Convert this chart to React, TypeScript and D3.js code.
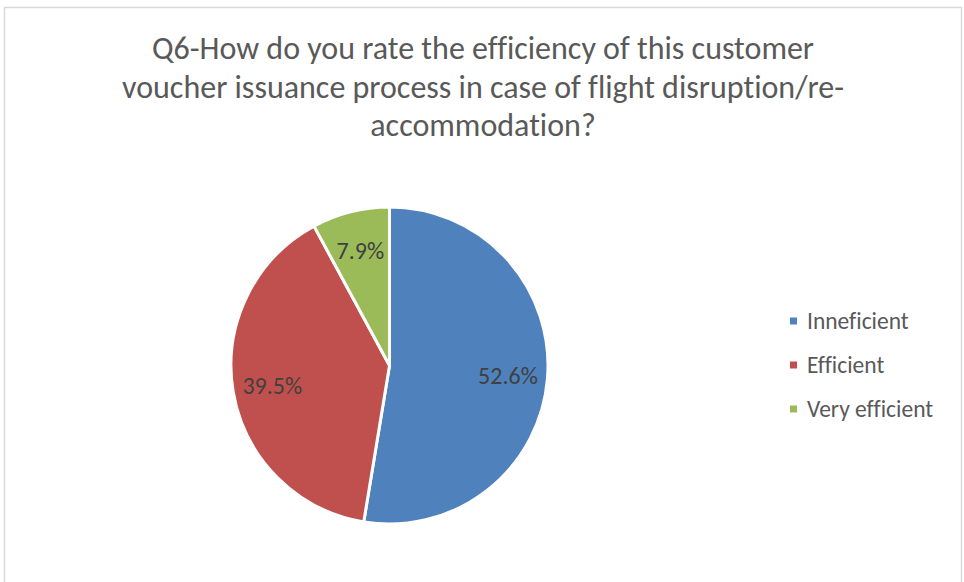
import { useEffect, useRef } from "react";
import * as d3 from "d3";

const categories = ["Inneficient", "Efficient", "Very efficient"];
const shares = [52.6, 39.5, 7.9];
const colors = ["#4f81bd", "#c0504d", "#9bbb59"];
const titleLines = [
  "Q6-How do you rate the efficiency of this customer",
  "voucher issuance process in case of flight disruption/re-",
  "accommodation?",
];

const App = () => {
  const svgRef = useRef<SVGSVGElement>(null);

  useEffect(() => {
    const svg = d3.select(svgRef.current);
    svg.selectAll("*").remove();

    const width = 964;
    const height = 582;
    const cx = 389.5;
    const cy = 365.5;
    const radius = 158.5;
    const font = "Carlito, Calibri, Lato, sans-serif";

    // chart frame
    svg
      .append("rect")
      .attr("x", 4.5)
      .attr("y", 7.5)
      .attr("width", 957)
      .attr("height", 590)
      .attr("fill", "#ffffff")
      .attr("stroke", "#d9d9d9")
      .attr("stroke-width", 1.5);

    // title
    svg
      .append("g")
      .selectAll("text")
      .data(titleLines)
      .enter()
      .append("text")
      .attr("x", 483)
      .attr("y", (_, i) => 59 + i * 38.5)
      .attr("text-anchor", "middle")
      .attr("font-family", font)
      .attr("font-size", 32)
      .attr("fill", "#595959")
      .style("font-variant-ligatures", "none")
      .text((d) => d);

    const pie = d3
      .pie<number>()
      .sort(null)
      .value((d) => d);
    const arcs = pie(shares);
    const arc = d3.arc<d3.PieArcDatum<number>>().innerRadius(0).outerRadius(radius);
    const labelArc = d3
      .arc<d3.PieArcDatum<number>>()
      .innerRadius(radius * 0.75)
      .outerRadius(radius * 0.75);

    const g = svg.append("g").attr("transform", `translate(${cx},${cy})`);

    g.selectAll(".slice")
      .data(arcs)
      .enter()
      .append("path")
      .attr("class", "slice")
      .attr("d", arc)
      .attr("fill", (_, i) => colors[i])
      .attr("stroke", "#ffffff")
      .attr("stroke-width", 3)
      .attr("stroke-linejoin", "round");

    g.selectAll(".label")
      .data(arcs)
      .enter()
      .append("text")
      .attr("class", "label")
      .attr("transform", (d) => `translate(${labelArc.centroid(d)})`)
      .attr("dy", "0.35em")
      .attr("text-anchor", "middle")
      .attr("font-family", font)
      .attr("font-size", 24)
      .attr("fill", "#404040")
      .text((d) => `${d.data.toFixed(1)}%`);

    // legend
    const legend = svg.append("g").attr("transform", "translate(790,321)");
    const item = legend
      .selectAll(".item")
      .data(categories)
      .enter()
      .append("g")
      .attr("class", "item")
      .attr("transform", (_, i) => `translate(0,${i * 44})`);

    item
      .append("rect")
      .attr("x", 0)
      .attr("y", -3.5)
      .attr("width", 7)
      .attr("height", 7)
      .attr("fill", (_, i) => colors[i]);

    item
      .append("text")
      .attr("x", 17)
      .attr("y", 0)
      .attr("dy", "0.35em")
      .attr("font-family", font)
      .attr("font-size", 23.5)
      .attr("fill", "#595959")
      .style("font-variant-ligatures", "none")
      .text((d) => d);

    svg.attr("width", width).attr("height", height);
  }, []);

  return (
    <svg
      ref={svgRef}
      width={964}
      height={582}
      style={{ position: "absolute", left: 0, top: 0 }}
    ></svg>
  );
};

export default App;
